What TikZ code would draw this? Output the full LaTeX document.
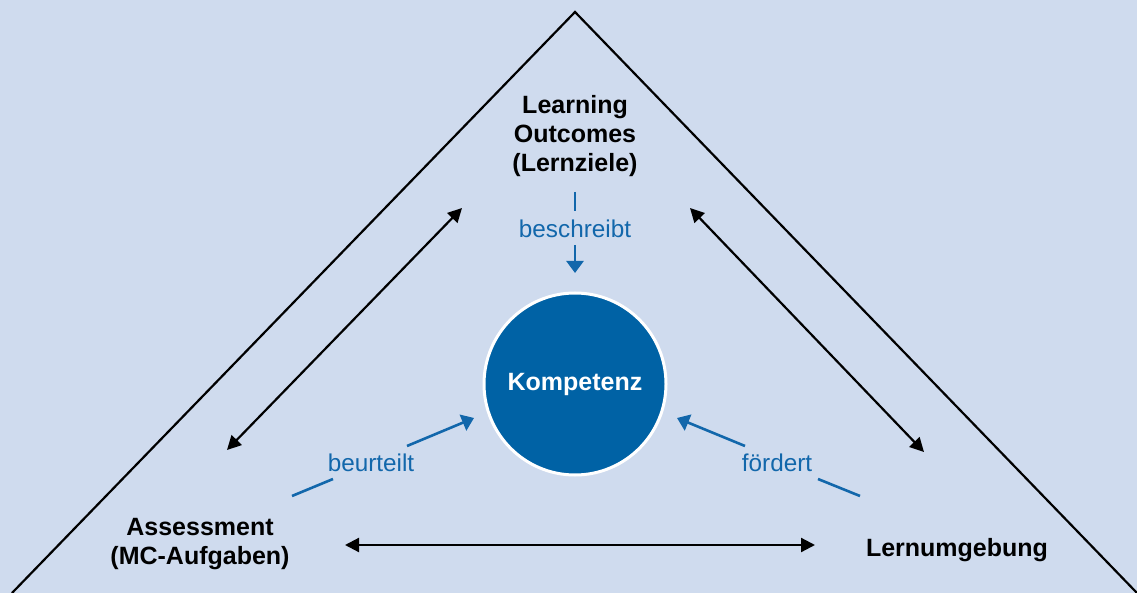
\documentclass[tikz,border=0pt]{standalone}
\usepackage{fontspec}
\setmainfont{Liberation Sans}
\usetikzlibrary{arrows.meta}
\definecolor{bg}{HTML}{CFDBEE}
\definecolor{dblue}{HTML}{0062A5}
\definecolor{lblue}{HTML}{1267AB}
\begin{document}
\begin{tikzpicture}[x=1pt,y=-1pt,
  edge/.style={line width=2.2pt, black, {Triangle[length=14pt,width=14pt]}-{Triangle[length=14pt,width=14pt]}},
  bl/.style={line width=2.6pt, lblue},
  blarrow/.style={bl, -{Triangle[length=12pt,width=17pt]}},
  corner/.style={font=\fontsize{25}{29}\selectfont\bfseries, align=center, inner sep=0pt},
  verb/.style={font=\fontsize{24.3}{28}\selectfont, text=lblue, inner sep=0pt},
  hub/.style={circle, minimum size=182pt, fill=dblue, draw=white, line width=3pt, text=white, font=\fontsize{25}{29}\selectfont\bfseries}]
\useasboundingbox (0,0) rectangle (1137,593);
\fill[bg] (0,0) rectangle (1137,593);
% outer triangle
\coordinate (L) at (12,593);
\coordinate (T) at (575,12);
\coordinate (R) at (1137,593);
\draw[line width=2.2pt, line join=miter] (L) -- (T) -- (R);
% corner texts
\node[corner] (lo) at (575,136) {Learning\\Outcomes\\(Lernziele)};
\node[corner] (as) at (200,544) {Assessment\\(MC-Aufgaben)};
\node[corner] (lu) at (957,550) {Lernumgebung};
% centre
\node[hub] (komp) at (575,384) {Kompetenz};
% black double arrows
\coordinate (l1) at (227,450); \coordinate (l2) at (462,208);
\coordinate (r1) at (690,208); \coordinate (r2) at (924,452);
\coordinate (b1) at (345,545); \coordinate (b2) at (815,545);
\draw[edge] (l1) -- (l2);
\draw[edge] (r1) -- (r2);
\draw[edge] (b1) -- (b2);
% verb labels
\node[verb] (besch) at (575,229) {beschreibt};
\node[verb] (beur) at (371,463) {beurteilt};
\node[verb] (foer) at (777,463) {fördert};
% blue arrows
\coordinate (s1) at (575,192); \coordinate (s2) at (575,211);
\coordinate (s3) at (575,245); \coordinate (s4) at (575,273);
\draw[bl] (s1) -- (s2);
\draw[blarrow] (s3) -- (s4);
\coordinate (u1) at (292,496); \coordinate (u2) at (333,479);
\coordinate (u3) at (407,446); \coordinate (u4) at (474,418);
\draw[bl] (u1) -- (u2);
\draw[blarrow] (u3) -- (u4);
\coordinate (f1) at (860,496); \coordinate (f2) at (818,479);
\coordinate (f3) at (745,446); \coordinate (f4) at (677,418);
\draw[bl] (f1) -- (f2);
\draw[blarrow] (f3) -- (f4);
\end{tikzpicture}
\end{document}
